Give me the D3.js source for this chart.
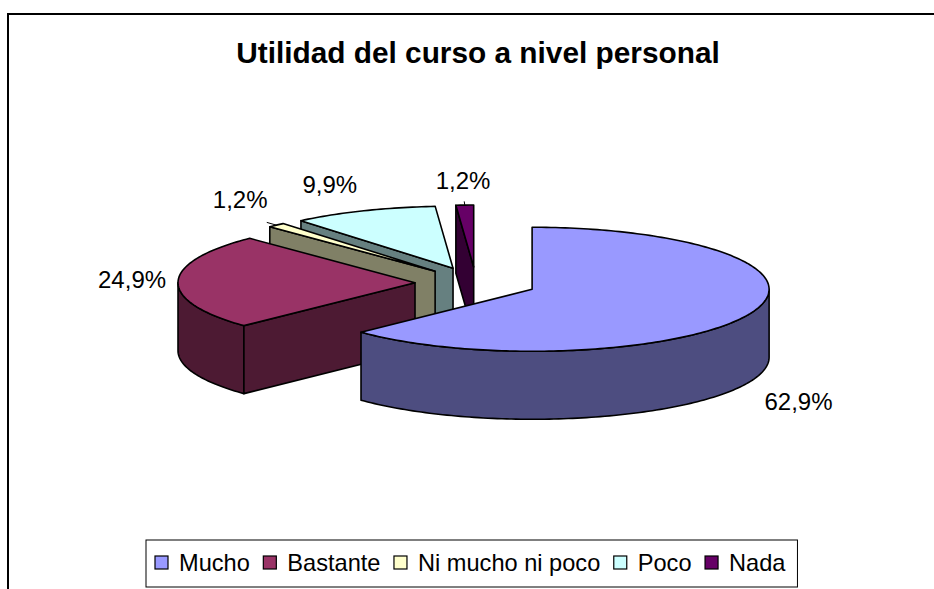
<!DOCTYPE html>
<html>
<head>
<meta charset="utf-8">
<script src="https://cdn.jsdelivr.net/npm/d3@7"></script>
<style>
  body { margin: 0; background: #fff; }
  svg { display: block; font-family: "Liberation Sans", Arial, sans-serif; }
</style>
</head>
<body>
<script>
// data
const categories = ["Mucho", "Bastante", "Ni mucho ni poco", "Poco", "Nada"];
const values = [62.9, 24.9, 1.2, 9.9, 1.2];
const valueLabels = ["62,9%", "24,9%", "1,2%", "9,9%", "1,2%"];
const topColors = ["#9999ff", "#993366", "#ffffcc", "#ccffff", "#660066"];
const sideColors = ["#4d4d80", "#4d1a33", "#808066", "#668080", "#330033"];

const width = 934, height = 589;
const cx0 = 476, cy0 = 283;   // pie centre before explosion
const rx = 237, ry = 62;      // ellipse of the tilted top
const depth = 68;
const explode = 61;
// small hand nudges for label placement, like Excel does it
const labelNudge = {
    "Mucho": [7, 10], "Bastante": [-1, -2], "Ni mucho ni poco": [-6, -7],
    "Poco": [-17, -3], "Nada": [0, 0]
};

const svg = d3.select("body").append("svg")
    .attr("width", width)
    .attr("height", height);

// chart frame (cut by the window on the right and bottom)
svg.append("rect")
    .attr("x", 8).attr("y", 14)
    .attr("width", 1000).attr("height", 1000)
    .attr("fill", "none")
    .attr("stroke", "#000")
    .attr("stroke-width", 2);

svg.append("text")
    .attr("x", 478).attr("y", 63)
    .attr("text-anchor", "middle")
    .attr("font-size", 29.8)
    .attr("font-weight", "bold")
    .text("Utilidad del curso a nivel personal");

const topColor = d3.scaleOrdinal().domain(categories).range(topColors);
const sideColor = d3.scaleOrdinal().domain(categories).range(sideColors);

const arcs = d3.pie().sort(null).value(d => d)(values).map((a, i) => {
    const mid = (a.startAngle + a.endAngle) / 2;
    return {
        ...a,
        name: categories[i],
        label: valueLabels[i],
        mid: mid,
        c: [cx0 + explode * Math.sin(mid), cy0 - explode * (ry / rx) * Math.cos(mid)]
    };
});

const pt = (c, a, r = 1) => [c[0] + rx * r * Math.sin(a), c[1] - ry * r * Math.cos(a)];
const down = p => [p[0], p[1] + depth];

function arcPoints(c, a0, a1) {
    const n = Math.max(2, Math.ceil(Math.abs(a1 - a0) / 0.02));
    return d3.range(n + 1).map(k => pt(c, a0 + (a1 - a0) * k / n));
}

const line = d3.line();
const pieG = svg.append("g")
    .attr("stroke", "#000")
    .attr("stroke-width", 1.6)
    .attr("stroke-linejoin", "round");

// back slices first
arcs.slice().sort((a, b) => a.c[1] - b.c[1]).forEach(d => {
    const g = pieG.append("g");
    const s = d.startAngle, e = d.endAngle, c = d.c;

    // outer wall, front half only
    const a = Math.max(s, Math.PI / 2), b = Math.min(e, 3 * Math.PI / 2);
    if (b > a) {
        const topRim = arcPoints(c, a, b);
        const botRim = topRim.map(down).reverse();
        g.append("path")
            .attr("d", line(topRim.concat(botRim)) + "Z")
            .attr("fill", sideColor(d.name));
    }
    // radial walls facing the viewer
    if (Math.sin(s) < -1e-6) {
        const p = pt(c, s);
        g.append("path")
            .attr("d", line([c, p, down(p), down(c)]) + "Z")
            .attr("fill", sideColor(d.name));
    }
    if (Math.sin(e) > 1e-6) {
        const p = pt(c, e);
        g.append("path")
            .attr("d", line([c, p, down(p), down(c)]) + "Z")
            .attr("fill", sideColor(d.name));
    }
    // top face
    g.append("path")
        .attr("d", line([c].concat(arcPoints(c, s, e))) + "Z")
        .attr("fill", topColor(d.name));
});

// value labels
const labelG = svg.append("g").attr("font-size", 24);
arcs.forEach(d => {
    const front = Math.cos(d.mid) < 0;
    const nudge = labelNudge[d.name];
    const lx = d.c[0] + (rx + 45) * Math.sin(d.mid) + nudge[0];
    const ly = d.c[1] - (ry + 25) * Math.cos(d.mid) + (front ? depth : 0) + nudge[1];
    labelG.append("text")
        .attr("x", lx).attr("y", ly)
        .attr("text-anchor", "middle")
        .attr("dominant-baseline", "central")
        .text(d.label);
    if (d.value < 2) {
        const p0 = pt(d.c, d.mid, 1.0), p1 = pt(d.c, d.mid, 1.06);
        labelG.append("path")
            .attr("d", line([p0, p1]))
            .attr("stroke", "#000")
            .attr("stroke-width", 1);
    }
});

// legend
const legend = svg.append("g");
const box = legend.append("rect")
    .attr("fill", "#fff")
    .attr("stroke", "#000")
    .attr("stroke-width", 1);
let x = 0;
categories.forEach(name => {
    legend.append("rect")
        .attr("x", x).attr("y", -7)
        .attr("width", 13).attr("height", 13)
        .attr("fill", topColor(name))
        .attr("stroke", "#000")
        .attr("stroke-width", 1.2);
    const t = legend.append("text")
        .attr("x", x + 24).attr("y", 0)
        .attr("dominant-baseline", "central")
        .attr("font-size", 23.6)
        .text(name);
    x += 24 + t.node().getComputedTextLength() + 13.5;
});
const total = x - 13.5;
legend.attr("transform", `translate(${155},${563})`);
box.attr("x", -9).attr("y", -23)
    .attr("width", total + 21).attr("height", 47);
</script>
</body>
</html>
